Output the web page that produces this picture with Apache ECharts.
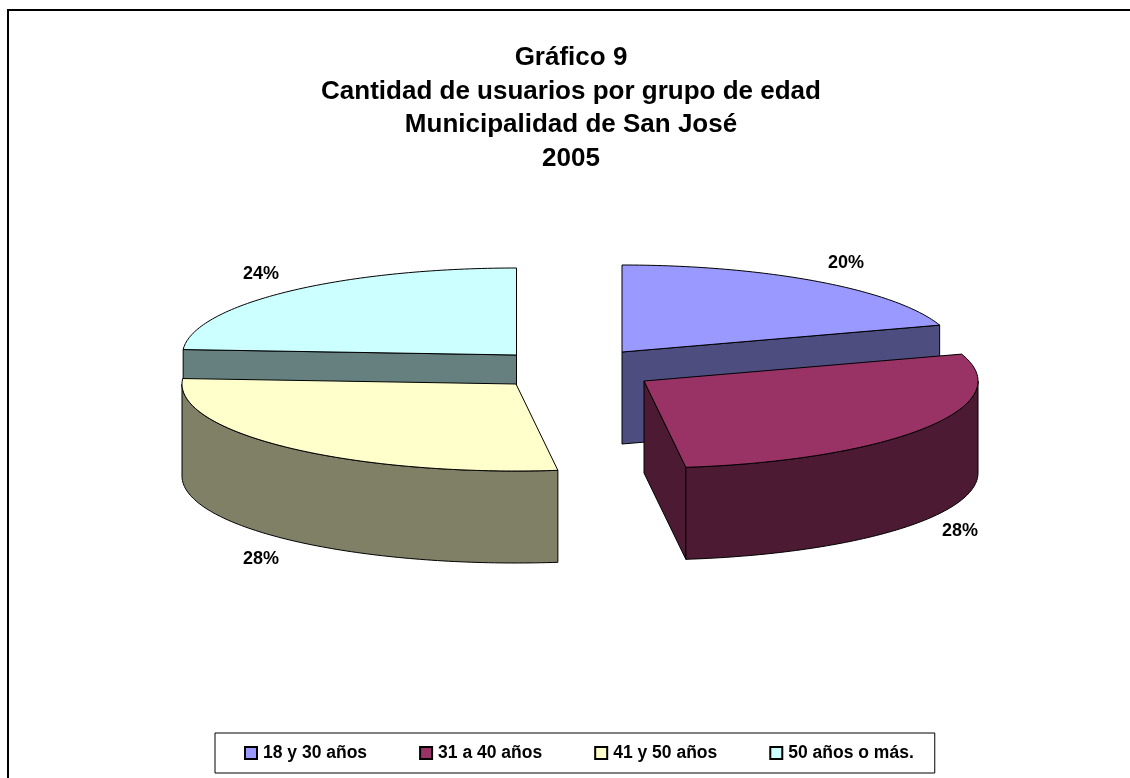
<!DOCTYPE html>
<html>
<head>
<meta charset="utf-8">
<title>Gráfico 9</title>
<style>
  html, body { margin: 0; padding: 0; background: #fff; }
  #chart { width: 1130px; height: 778px; }
</style>
<script src="https://cdn.jsdelivr.net/npm/echarts@6/dist/echarts.min.js"></script>
</head>
<body>
<div id="chart"></div>
<script>
const titleLines = ['Gráfico 9', 'Cantidad de usuarios por grupo de edad', 'Municipalidad de San José', '2005']
const categories = ['18 y 30 años', '31 a 40 años', '41 y 50 años', '50 años o más.']
const values = [20, 28, 28, 24]

const topColors = ['#9999ff', '#993366', '#ffffcc', '#ccffff']
const sideColors = ['#4d4d80', '#4d1a33', '#808066', '#668080']

// exploded slices: where each slice's apex sits, and where its % label goes
const apexes = [[622, 352], [644, 381], [516, 384], [516.5, 355]]
const labelPos = [[846, 263], [960, 531], [261, 559], [261, 274]]
// back slices first so the front ones overlap them
const drawOrder = [0, 3, 2, 1]

const radiusX = 334
const radiusY = 87
const depth = 92

const total = values.reduce((a, b) => a + b, 0)
const startAngles = values.map((v, i) => values.slice(0, i).reduce((a, b) => a + b, 0) / total * 360)

function rimPoint (apex, deg, drop) {
  const rad = deg * Math.PI / 180
  return [apex[0] + radiusX * Math.sin(rad), apex[1] - radiusY * Math.cos(rad) + drop]
}

function arc (apex, from, to, drop) {
  const pts = []
  const steps = Math.max(1, Math.ceil(Math.abs(to - from)))
  for (let i = 0; i <= steps; i++) {
    pts.push(rimPoint(apex, from + (to - from) * i / steps, drop))
  }
  return pts
}

function poly (points, fill) {
  return {
    type: 'polygon',
    shape: { points },
    style: { fill, stroke: '#000', lineWidth: 1 }
  }
}

function renderSlice (idx) {
  return function (params, api) {
    const apex = apexes[idx]
    const a0 = startAngles[idx]
    const a1 = a0 + api.value(0) / total * 360
    const children = []

    // radial cut faces, only the ones turned towards the viewer
    const faces = []
    if (Math.sin(a0 * Math.PI / 180) < -1e-6) faces.push(a0)
    if (Math.sin(a1 * Math.PI / 180) > 1e-6) faces.push(a1)
    faces.forEach(a => {
      const tip = rimPoint(apex, a, 0)
      children.push(poly([apex, tip, [tip[0], tip[1] + depth], [apex[0], apex[1] + depth]], sideColors[idx]))
    })

    // outer wall, front half of the ellipse only
    const f0 = Math.max(a0, 90)
    const f1 = Math.min(a1, 270)
    if (f1 > f0) {
      children.push(poly(arc(apex, f0, f1, 0).concat(arc(apex, f1, f0, depth)), sideColors[idx]))
    }

    // top of the slice
    children.push(poly([apex].concat(arc(apex, a0, a1, 0)), topColors[idx]))

    children.push({
      type: 'text',
      x: labelPos[idx][0],
      y: labelPos[idx][1],
      style: {
        text: api.value(0) + '%',
        fill: '#000',
        font: 'bold 18px "Liberation Sans", Arial, sans-serif',
        align: 'center',
        verticalAlign: 'middle'
      }
    })
    return { type: 'group', children }
  }
}

const chart = echarts.init(document.getElementById('chart'))

chart.setOption({
  animation: false,
  backgroundColor: '#fff',
  title: {
    text: titleLines.join('\n'),
    left: 571,
    top: 41.5,
    padding: 0,
    textAlign: 'center',
    textStyle: {
      fontFamily: '"Liberation Sans", Arial, sans-serif',
      fontWeight: 'bold',
      fontSize: 26,
      lineHeight: 33.5,
      color: '#000'
    }
  },
  legend: {
    data: categories,
    left: 215,
    top: 733,
    padding: [11, 21, 11, 29],
    itemGap: 52,
    itemWidth: 12,
    itemHeight: 12,
    icon: 'rect',
    borderColor: '#000',
    borderWidth: 1,
    selectedMode: false,
    textStyle: {
      fontFamily: '"Liberation Sans", Arial, sans-serif',
      fontWeight: 'bold',
      fontSize: 17.5,
      color: '#000',
      padding: [0, 0, 0, 1]
    }
  },
  // the frame only shows on the left and top, the rest is cropped away
  graphic: [{
    type: 'polyline',
    silent: true,
    shape: { points: [[8, 778], [8, 10], [1130, 10]] },
    style: { fill: 'none', stroke: '#000', lineWidth: 2 }
  }],
  series: drawOrder.map(idx => ({
    name: categories[idx],
    type: 'custom',
    coordinateSystem: 'none',
    renderItem: renderSlice(idx),
    itemStyle: { color: topColors[idx], borderColor: '#000', borderWidth: 1 },
    data: [[values[idx]]]
  }))
})
</script>
</body>
</html>
